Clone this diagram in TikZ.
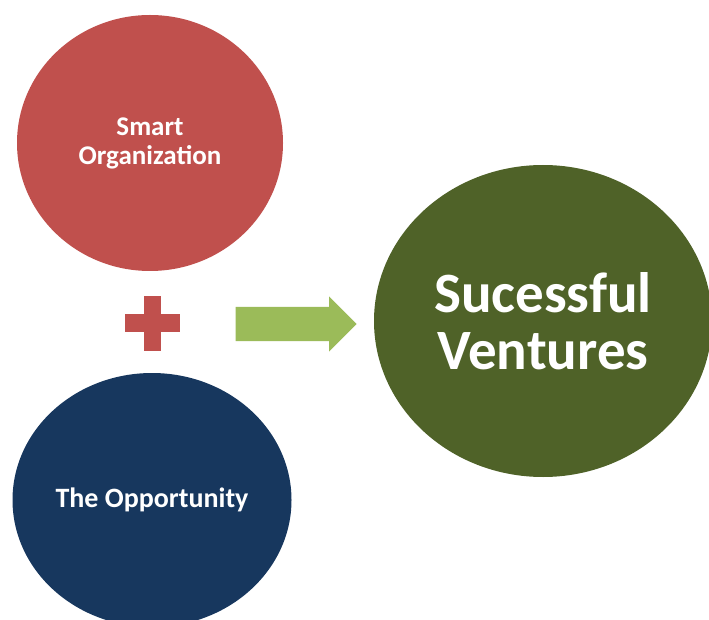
\documentclass[tikz,border=0pt]{standalone}
\usepackage{fontspec}
\setmainfont{Carlito}
\usepackage{xcolor}
\usetikzlibrary{shapes.geometric, shapes.arrows}

\definecolor{smartred}{HTML}{C0504D}
\definecolor{oppblue}{HTML}{17375E}
\definecolor{ventgreen}{HTML}{4F6228}
\definecolor{arrowgreen}{HTML}{9BBB59}

\begin{document}
\begin{tikzpicture}[x=1pt, y=-1pt,
    blob/.style={ellipse, inner sep=0pt, text=white, align=center},
    bar/.style={rectangle, fill=smartred, inner sep=0pt}]
    \useasboundingbox (0,0) rectangle (709,620);
    \node[blob, fill=smartred, minimum width=266pt, minimum height=256pt,
          font=\bfseries\fontsize{27}{29}\selectfont] (smart) at (150,143) {Smart\\Organization};
    \node[blob, fill=oppblue, minimum width=279pt, minimum height=254pt,
          font=\bfseries\fontsize{28}{30}\selectfont] (opp) at (152,500) {The Opportunity};
    \node[blob, fill=ventgreen, minimum width=338pt, minimum height=312pt,
          font=\bfseries\fontsize{57}{57}\selectfont] (vent) at (543,321) {Sucessful\\Ventures};
    % plus sign
    \node[bar, minimum width=55pt, minimum height=18pt] (plush) at (152,323) {};
    \node[bar, minimum width=17pt, minimum height=55pt] (plusv) at (plush) {};
    % block arrow
    \node[single arrow, fill=arrowgreen, inner xsep=0pt, inner ysep=17pt, minimum height=121pt,
          single arrow head extend=10.5pt, single arrow tip angle=90, anchor=tip] (go) at (357,324) {};
\end{tikzpicture}
\end{document}
